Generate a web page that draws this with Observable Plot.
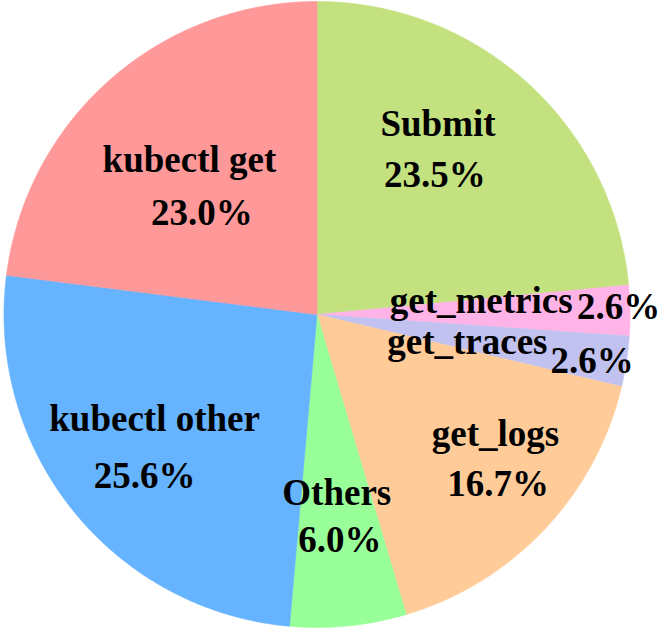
<!DOCTYPE html>
<html><head><meta charset="utf-8">
<script src="https://cdn.jsdelivr.net/npm/d3@7"></script>
<script src="https://cdn.jsdelivr.net/npm/@observablehq/plot@0.6"></script>
<style>body{margin:0;background:#fff} svg text{font-family:"Liberation Serif","Times New Roman",serif !important;}</style>
</head><body><div id="chart"></div>
<script>
// ---- data ----
const categories = ["Submit", "get_metrics", "get_traces", "get_logs", "Others", "kubectl other", "kubectl get"];
const shares = [23.5, 2.6, 2.6, 16.7, 6.0, 25.6, 23.0];
const colors = ["#c4e17f", "#ffb3e6", "#c2c2f0", "#ffcc99", "#99ff99", "#66b3ff", "#ff9999"];

// ---- label layout ----
// percentage text: radial fraction of the radius and angular nudge (deg) from the slice's mid-angle
const pctDistance = [0.584, 0.964, 0.891, 0.792, 0.726, 0.754, 0.491];
const pctTurn = [-2.1, -0.6, 0.9, -0.3, 0, -4.2, -7.1];
// category text: pixel offset from the percentage text; "left" labels end just before it
const labelAnchor = ["middle", "end", "end", "middle", "middle", "middle", "middle"];
const labelDx = [3, -46, -44.5, -2.5, -3, 10, -12.5];
const labelDy = [-51, -6, -19, -50, -47, -57, -52.3];

const W = 664, H = 631, R = 313, cx = 316.5, cy = 314;
const total = d3.sum(shares);

// slice polygons from the cumulative shares (clockwise from 12 o'clock)
const polys = [];
const texts = [];
let cum = 0;
shares.forEach((v, i) => {
  const a0 = cum / total * 2 * Math.PI;
  cum += v;
  const a1 = cum / total * 2 * Math.PI;
  polys.push({x: 0, y: 0, k: i});
  const n = Math.max(4, Math.ceil((a1 - a0) / (Math.PI / 720)));
  for (let j = 0; j <= n; j++) {
    const t = a0 + (a1 - a0) * j / n;
    polys.push({x: Math.sin(t), y: Math.cos(t), k: i});
  }
  polys.push({x: 0, y: 0, k: i});
  const am = (a0 + a1) / 2 + pctTurn[i] * Math.PI / 180;
  const px = pctDistance[i] * Math.sin(am), py = pctDistance[i] * Math.cos(am);
  texts.push({anchor: "middle", x: px, y: py, t: v.toFixed(1) + "%"});
  texts.push({anchor: labelAnchor[i], x: px + labelDx[i] / R, y: py - labelDy[i] / R, t: categories[i]});
});

const font = {fontFamily: "Liberation Serif", fontWeight: "bold", fontSize: 37, fill: "#000"};

const chart = Plot.plot({
  width: W, height: H,
  margin: 0,
  x: {domain: [-cx / R, (W - cx) / R], range: [0, W], axis: null},
  y: {domain: [-(H - cy) / R, cy / R], range: [H, 0], axis: null},
  color: {type: "identity"},
  style: {background: "#fff", fontFamily: "Liberation Serif"},
  marks: [
    Plot.line(polys, {x: "x", y: "y", z: "k", fill: d => colors[d.k], stroke: d => colors[d.k], strokeWidth: 0.6, curve: "linear"}),
    Plot.text(texts.filter(d => d.anchor === "middle"), {x: "x", y: "y", text: "t", textAnchor: "middle", ...font}),
    Plot.text(texts.filter(d => d.anchor === "end"), {x: "x", y: "y", text: "t", textAnchor: "end", ...font})
  ]
});
document.getElementById("chart").appendChild(chart);
</script>
</body></html>
